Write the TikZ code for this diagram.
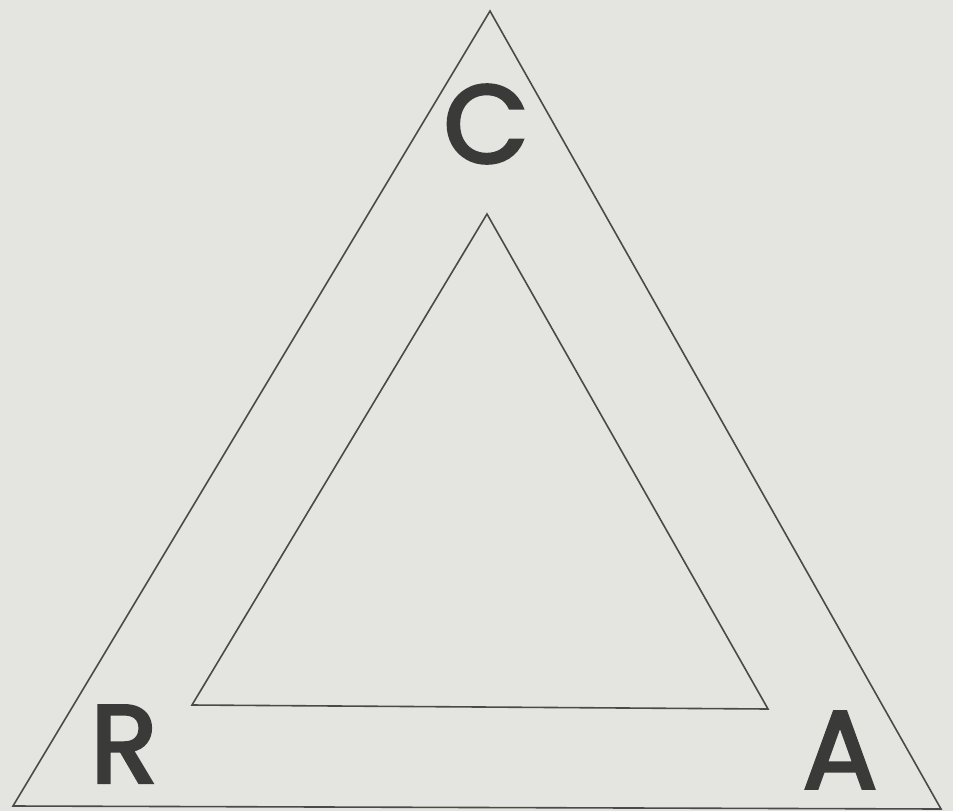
\documentclass[tikz,border=0pt]{standalone}
\usepackage{fontspec}
\setmainfont{Poppins}
\newfontfamily\lblfont[FakeBold=3]{Poppins}
\definecolor{bg}{HTML}{E4E4E0}
\definecolor{ln}{HTML}{4A4A48}
\definecolor{tx}{HTML}{3A3A38}
\begin{document}
\begin{tikzpicture}[x=1pt,y=-1pt,
  edge/.style={draw=ln,line width=1.6pt,line join=miter},
  lbl/.style={text=tx,inner sep=0pt,font=\lblfont\fontsize{110}{110}\selectfont}]
\fill[bg] (0,0) rectangle (953,811);
\useasboundingbox (0,0) rectangle (953,811);
\coordinate (o1) at (490,11);
\coordinate (o2) at (13,806);
\coordinate (o3) at (941,809);
\coordinate (i1) at (487,214);
\coordinate (i2) at (192,705);
\coordinate (i3) at (768,709);
\draw[edge] (o1) -- (o2) -- (o3) -- cycle;
\draw[edge] (i1) -- (i2) -- (i3) -- cycle;
\node[lbl] (c) at (486,124) {C};
\node[lbl] (r) at (124,744) {R};
\node[lbl] (a) at (840,750) {A};
\end{tikzpicture}
\end{document}
